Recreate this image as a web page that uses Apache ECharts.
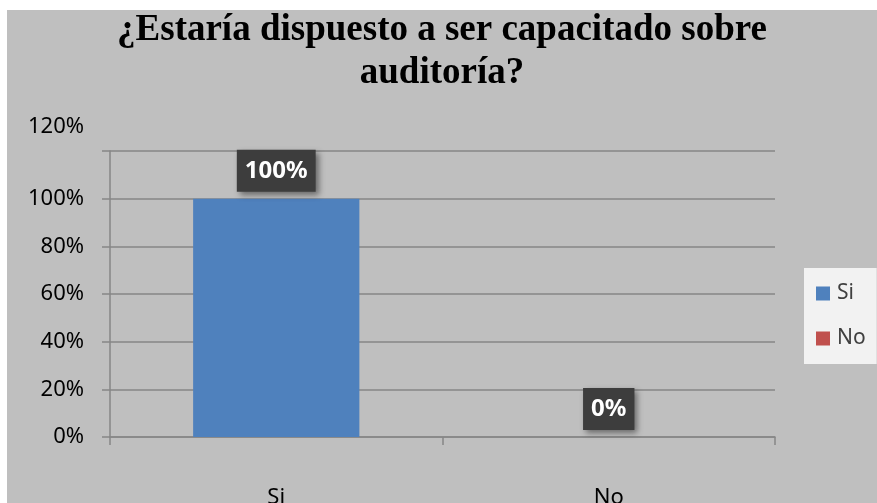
<!DOCTYPE html>
<html>
<head>
<meta charset="utf-8">
<script src="https://cdn.jsdelivr.net/npm/echarts@6/dist/echarts.min.js"></script>
<style>
html,body{margin:0;padding:0;background:#ffffff;width:877px;height:503px;overflow:hidden;}
#c{position:absolute;left:7px;top:10px;width:870px;height:493px;}
</style>
</head>
<body>
<div id="c"></div>
<script>
const titleText = '¿Estaría dispuesto a ser capacitado sobre\nauditoría?';
const categories = ['Si', 'No'];
const seriesNames = ['Si', 'No'];
const siValues = [100, '-'];
const noValues = ['-', 0];
const yTicks = [0, 20, 40, 60, 80, 100, 120];

const chart = echarts.init(document.getElementById('c'));
const labelStyle = {
  show: true,
  position: 'top',
  distance: 7,
  formatter: p => p.value + '%',
  color: '#ffffff',
  fontFamily: 'Noto Sans',
  fontWeight: 'bold',
  fontSize: 24,
  backgroundColor: '#3d3d3d',
  padding: [9, 8, 9, 8],
  shadowColor: 'rgba(0,0,0,0.45)',
  shadowBlur: 6,
  shadowOffsetX: 3,
  shadowOffsetY: 3
};
chart.setOption({
  backgroundColor: '#bfbfbf',
  animation: false,
  title: {
    text: titleText,
    left: 'center',
    top: -6,
    textStyle: {
      fontFamily: 'Liberation Serif',
      fontWeight: 'bold',
      fontSize: 37,
      lineHeight: 43,
      color: '#000000'
    }
  },
  legend: {
    data: seriesNames,
    orient: 'vertical',
    left: 797,
    top: 258,
    backgroundColor: '#f2f2f2',
    padding: [15, 11, 15, 12],
    itemWidth: 14,
    itemHeight: 14,
    itemGap: 24,
    icon: 'rect',
    textStyle: { fontFamily: 'Noto Sans', fontSize: 21, color: '#404040', padding: [0, 0, 0, 2] }
  },
  grid: { left: 103, right: 102, top: 141, bottom: 66, outerBoundsMode: 'none', containLabel: false },
  xAxis: {
    type: 'category',
    data: categories,
    axisLine: { lineStyle: { color: '#868686', width: 1.5 } },
    axisTick: { show: true, length: 8, lineStyle: { color: '#868686', width: 1.5 } },
    axisLabel: { margin: 50, fontFamily: 'Noto Sans', fontSize: 22, color: '#000000' }
  },
  yAxis: {
    type: 'value',
    min: 0,
    max: 120,
    interval: 20,
    axisLine: { show: true, lineStyle: { color: '#868686', width: 1.5 } },
    axisTick: { show: true, length: 8, lineStyle: { color: '#868686', width: 1.5 } },
    splitLine: { lineStyle: { color: '#868686', width: 1.5 } },
    axisLabel: {
      margin: 26,
      fontFamily: 'Noto Sans',
      fontSize: 22,
      color: '#000000',
      formatter: v => (v === yTicks[yTicks.length - 1] ? '{top|' + v + '%}' : v + '%'),
      rich: { top: { fontFamily: 'Noto Sans', fontSize: 22, color: '#000000', padding: [0, 0, 48, 0] } }
    }
  },
  series: [
    {
      name: seriesNames[0], type: 'bar', stack: 'all', barWidth: '50%',
      data: siValues, itemStyle: { color: '#4f81bd' }, label: labelStyle
    },
    {
      name: seriesNames[1], type: 'bar', stack: 'all', barWidth: '50%',
      data: noValues, itemStyle: { color: '#c0504d' }, label: labelStyle
    }
  ]
});
</script>
</body>
</html>
